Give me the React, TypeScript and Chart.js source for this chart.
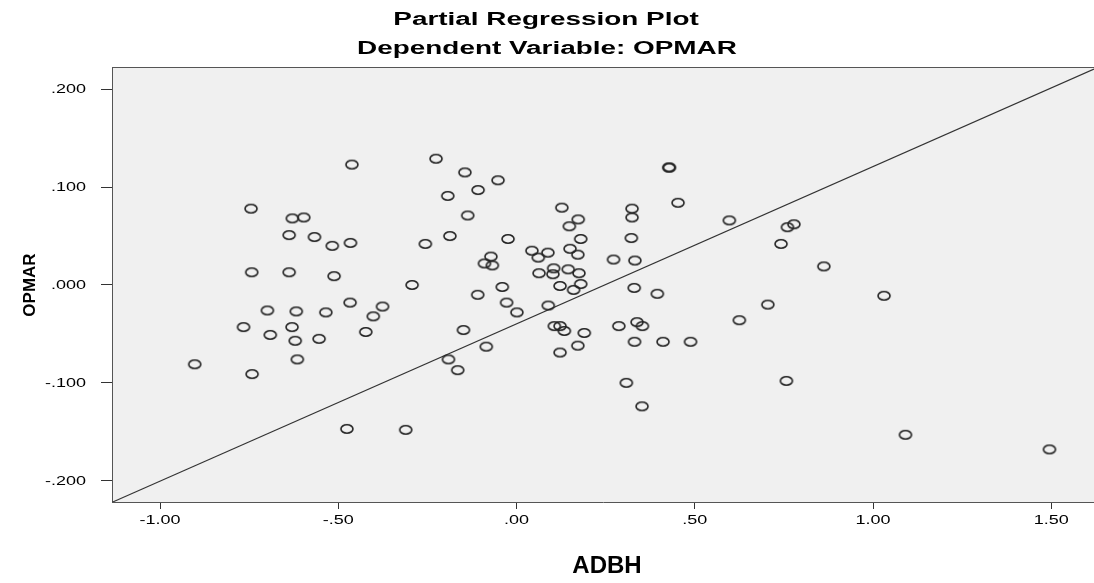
import React, { useEffect, useRef } from "react";
import { Chart, registerables } from "chart.js";

Chart.register(...registerables);

// ---- Data ----
const adbh: number[] = [
  -0.903, -0.766, -0.745, -0.743, -0.742, -0.699, -0.691, -0.638, -0.638, -0.63,
  -0.629, -0.621, -0.618, -0.615, -0.597, -0.567, -0.554, -0.535, -0.517, -0.512,
  -0.476, -0.467, -0.466, -0.462, -0.423, -0.402, -0.376, -0.311, -0.293, -0.256,
  -0.226, -0.193, -0.191, -0.187, -0.165, -0.149, -0.145, -0.137, -0.109, -0.108,
  -0.09, -0.085, -0.072, -0.068, -0.052, -0.04, -0.028, -0.024, 0.001, 0.043,
  0.061, 0.063, 0.088, 0.089, 0.102, 0.104, 0.106, 0.122, 0.122, 0.122,
  0.127, 0.134, 0.145, 0.148, 0.15, 0.16, 0.172, 0.172, 0.173, 0.175,
  0.18, 0.18, 0.19, 0.272, 0.287, 0.308, 0.322, 0.324, 0.324, 0.33,
  0.331, 0.332, 0.338, 0.352, 0.353, 0.395, 0.411, 0.427, 0.429, 0.453,
  0.488, 0.597, 0.625, 0.705, 0.742, 0.757, 0.76, 0.778, 0.862, 1.031,
  1.091, 1.495,
];
const opmar: number[] = [
  -0.081, -0.043, 0.078, 0.013, -0.091, -0.026, -0.051, 0.051, 0.013, -0.043,
  0.068, -0.057, -0.027, -0.076, 0.069, 0.049, -0.055, -0.028, 0.04, 0.009,
  -0.147, -0.018, 0.043, 0.123, -0.048, -0.032, -0.022, -0.148, 0.0, 0.042,
  0.129, 0.091, -0.076, 0.05, -0.087, -0.046, 0.115, 0.071, -0.01, 0.097,
  0.022, -0.063, 0.029, 0.02, 0.107, -0.002, -0.018, 0.047, -0.028, 0.035,
  0.028, 0.012, 0.033, -0.021, 0.011, 0.017, -0.042, -0.042, -0.001, -0.069,
  0.079, -0.047, 0.016, 0.06, 0.037, -0.005, 0.031, -0.062, 0.067, 0.012,
  0.047, 0.001, -0.049, 0.026, -0.042, -0.1, 0.048, 0.078, 0.069, -0.003,
  -0.058, 0.025, -0.038, -0.124, -0.042, -0.009, -0.058, 0.12, 0.12, 0.084,
  -0.058, 0.066, -0.036, -0.02, 0.042, -0.098, 0.059, 0.062, 0.019, -0.011,
  -0.153, -0.168,
];
// Fit line end points (as seen in the picture)
const fitLineX: number[] = [-1.135, 1.62];
const fitLineY: number[] = [-0.222, 0.2205];

const xTickValues: number[] = [-1, -0.5, 0, 0.5, 1, 1.5];
const xTickLabels: string[] = ["-1.00", "-.50", ".00", ".50", "1.00", "1.50"];
const yTickValues: number[] = [0.2, 0.1, 0, -0.1, -0.2];
const yTickLabels: string[] = [".200", ".100", ".000", "-.100", "-.200"];

const titleLines: string[] = ["Partial Regression Plot", "Dependent Variable: OPMAR"];
const xAxisTitle = "ADBH";
const yAxisTitle = "OPMAR";

const SANS = "'Liberation Sans', Arial, Helvetica, sans-serif";
const NARROW = "'Liberation Sans Narrow', 'Liberation Sans', Arial, sans-serif";
const STRETCH = 1.55;

function drawStretched(
  ctx: CanvasRenderingContext2D,
  text: string,
  x: number,
  y: number,
  font: string,
  align: CanvasTextAlign,
  sx: number
) {
  ctx.save();
  ctx.translate(x, y);
  ctx.scale(sx, 1);
  ctx.font = font;
  ctx.textAlign = align;
  ctx.textBaseline = "middle";
  ctx.fillStyle = "#000";
  ctx.fillText(text, 0, 0);
  ctx.restore();
}

const framePlugin = {
  id: "spssFrame",
  beforeDraw(chart: any) {
    const { ctx, chartArea } = chart;
    ctx.save();
    ctx.fillStyle = "#f0f0f0";
    ctx.fillRect(chartArea.left, chartArea.top, chartArea.right - chartArea.left, chartArea.bottom - chartArea.top);
    ctx.restore();
  },
  afterDraw(chart: any) {
    const { ctx, chartArea } = chart;
    ctx.save();
    ctx.strokeStyle = "#555";
    ctx.lineWidth = 1;
    ctx.beginPath();
    ctx.moveTo(chartArea.left, chartArea.top + 0.5);
    ctx.lineTo(chartArea.right, chartArea.top + 0.5);
    ctx.stroke();
    ctx.restore();

    // titles
    drawStretched(ctx, titleLines[0], 546, 20, `bold 18px ${SANS}`, "center", STRETCH);
    drawStretched(ctx, titleLines[1], 547, 49, `bold 18px ${SANS}`, "center", STRETCH);

    // tick labels
    const xs = chart.scales.x;
    const ys = chart.scales.y;
    xTickValues.forEach((v, i) => {
      drawStretched(ctx, xTickLabels[i], xs.getPixelForValue(v), 521, `12px ${SANS}`, "center", 1.5);
    });
    yTickValues.forEach((v, i) => {
      drawStretched(ctx, yTickLabels[i], 86, ys.getPixelForValue(v) + 0.5, `12px ${SANS}`, "right", 1.5);
    });

    // axis titles
    ctx.save();
    ctx.font = `bold 24px ${NARROW}`;
    ctx.textAlign = "center";
    ctx.textBaseline = "middle";
    ctx.fillStyle = "#000";
    ctx.fillText(xAxisTitle, 607, 566);
    ctx.translate(30, 285);
    ctx.rotate(-Math.PI / 2);
    ctx.font = `bold 17px ${NARROW}`;
    ctx.fillText(yAxisTitle, 0, 0);
    ctx.restore();
  },
};

function makeMarker(): HTMLCanvasElement {
  const c = document.createElement("canvas");
  c.width = 16;
  c.height = 12;
  const g = c.getContext("2d")!;
  g.strokeStyle = "#222";
  g.lineWidth = 1.6;
  g.beginPath();
  g.ellipse(8, 6, 6.0, 4.2, 0, 0, Math.PI * 2);
  g.stroke();
  return c;
}

export default function App() {
  const canvasRef = useRef<HTMLCanvasElement | null>(null);

  useEffect(() => {
    if (!canvasRef.current) return;
    const marker = makeMarker();
    const points = adbh.map((x, i) => ({ x, y: opmar[i] }));
    const fit = fitLineX.map((x, i) => ({ x, y: fitLineY[i] }));

    const chart = new Chart(canvasRef.current, {
      type: "scatter",
      data: {
        datasets: [
          {
            type: "line",
            label: "fit",
            data: fit,
            borderColor: "#333",
            borderWidth: 1.2,
            pointRadius: 0,
            fill: false,
            order: 2,
          } as any,
          {
            label: "points",
            data: points,
            pointStyle: marker as any,
            pointRadius: 6,
            order: 1,
          },
        ],
      },
      plugins: [framePlugin],
      options: {
        animation: false,
        responsive: true,
        maintainAspectRatio: false,
        devicePixelRatio: 1,
        layout: { autoPadding: false, padding: { top: 67, left: 0, right: 0, bottom: 0 } },
        plugins: {
          legend: { display: false },
          tooltip: { enabled: false },
          title: { display: false },
        },
        scales: {
          x: {
            type: "linear",
            min: -1.135,
            max: 1.62,
            afterBuildTicks: (s: any) => {
              s.ticks = xTickValues.map((v) => ({ value: v }));
            },
            afterFit: (s: any) => {
              s.height = 81;
            },
            ticks: { display: false, includeBounds: false },
            grid: {
              display: true,
              drawOnChartArea: false,
              drawTicks: true,
              tickLength: 7,
              color: "#333",
              lineWidth: 1,
            },
            border: { display: true, color: "#555", width: 1 },
          },
          y: {
            type: "linear",
            min: -0.2217,
            max: 0.2227,
            afterBuildTicks: (s: any) => {
              s.ticks = yTickValues.map((v) => ({ value: v }));
            },
            afterFit: (s: any) => {
              s.width = 112;
            },
            ticks: { display: false, includeBounds: false },
            grid: {
              display: true,
              drawOnChartArea: false,
              drawTicks: true,
              tickLength: 11,
              color: "#333",
              lineWidth: 1,
            },
            border: { display: true, color: "#555", width: 1 },
          },
        },
      } as any,
    });
    return () => chart.destroy();
  }, []);

  return (
    <div style={{ position: "fixed", left: 0, top: 0, width: 1094, height: 583, background: "#fff" }}>
      <canvas ref={canvasRef} />
    </div>
  );
}
